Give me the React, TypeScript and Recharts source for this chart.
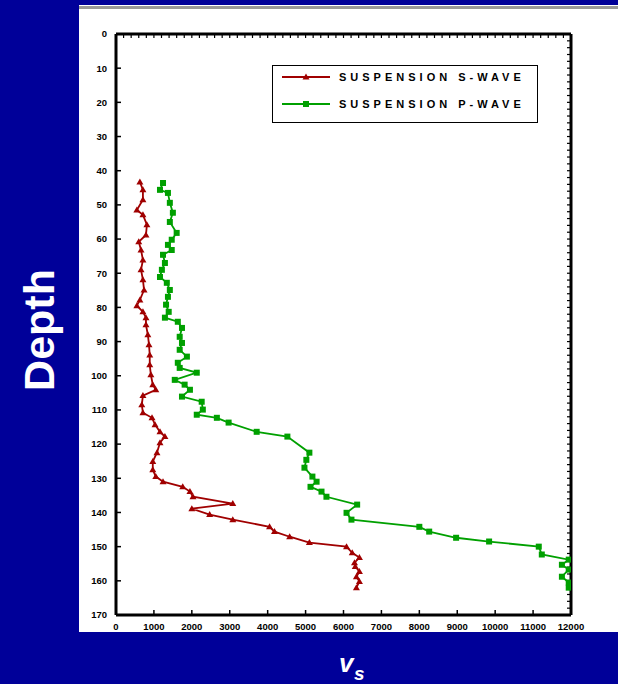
import { ScatterChart, Scatter, XAxis, YAxis } from "recharts"

// suspension S-wave (depth, velocity)
const sDepth = [43.3, 45.6, 48.5, 51.5, 52.9, 55.8, 58.8, 60.8, 63.2, 66.1, 69.0, 71.9, 74.9, 77.8, 79.5, 81.3, 83.0, 85.1, 88.0, 90.9, 93.9, 96.8, 99.7, 102.6, 104.1, 105.8, 108.5, 110.8, 112.3, 114.3, 116.4, 117.8, 119.6, 122.5, 125.1, 127.5, 129.5, 131.0, 132.5, 133.9, 135.4, 137.4, 138.9, 140.6, 142.1, 144.2, 145.6, 147.1, 148.8, 150.0, 151.8, 153.2, 154.7, 155.8, 157.3, 158.8, 160.2, 162.0]
const sVel = [630, 710, 710, 550, 710, 815, 790, 600, 660, 710, 660, 710, 740, 630, 550, 710, 790, 790, 840, 870, 890, 890, 920, 970, 1050, 710, 680, 710, 950, 1030, 1160, 1290, 1160, 1080, 970, 970, 1050, 1240, 1760, 1950, 2030, 3080, 2000, 2470, 3080, 4050, 4180, 4580, 5100, 6080, 6230, 6420, 6290, 6310, 6420, 6340, 6420, 6340]

// suspension P-wave (depth, velocity)
const pDepth = [43.6, 45.6, 46.5, 49.4, 52.3, 55.0, 58.2, 60.2, 61.7, 63.2, 64.6, 67.0, 69.0, 71.1, 72.8, 74.9, 76.9, 79.2, 81.3, 83.0, 84.2, 86.0, 88.6, 90.4, 92.4, 94.4, 96.2, 97.7, 99.1, 101.2, 102.6, 104.1, 106.1, 107.6, 109.9, 111.4, 112.3, 113.7, 116.4, 117.8, 122.5, 124.6, 126.9, 129.5, 131.0, 132.5, 133.9, 135.4, 137.7, 140.1, 142.1, 144.2, 145.6, 147.4, 148.5, 150.0, 152.3, 153.8, 155.3, 156.7, 158.8, 160.5, 162.0]
const pVel = [1240, 1160, 1370, 1420, 1500, 1420, 1600, 1470, 1370, 1470, 1240, 1290, 1210, 1160, 1340, 1420, 1370, 1320, 1390, 1290, 1630, 1740, 1680, 1740, 1680, 1870, 1630, 1680, 2130, 1550, 1810, 1950, 1740, 2260, 2290, 2130, 2660, 2970, 3710, 4520, 5100, 5020, 4970, 5180, 5290, 5130, 5420, 5550, 6360, 6080, 6210, 8000, 8260, 8970, 9840, 11150, 11230, 11940, 11760, 11940, 11760, 11940, 11940]

const xTicks = [0, 1000, 2000, 3000, 4000, 5000, 6000, 7000, 8000, 9000, 10000, 11000, 12000]
const yTicks = [0, 10, 20, 30, 40, 50, 60, 70, 80, 90, 100, 110, 120, 130, 140, 150, 160, 170]
const legendNames = ["SUSPENSION S-WAVE", "SUSPENSION P-WAVE"]

const sData = sDepth.map((d, i) => ({ depth: d, v: sVel[i] }))
const pData = pDepth.map((d, i) => ({ depth: d, v: pVel[i] }))
const topMinor = Array.from({ length: 61 }, (_, i) => i * 200)
const rightMinor = Array.from({ length: 86 }, (_, i) => i * 2)

const NAVY = "#000099"
const RED = "#a00000"
const GREEN = "#00a000"
const FONT = "'Liberation Sans', Arial, sans-serif"

function Tri({ cx, cy }: any) {
  return <polygon points={`${cx},${cy - 3.5} ${cx + 3.5},${cy + 2.5} ${cx - 3.5},${cy + 2.5}`} fill={RED} />
}

function Sq({ cx, cy }: any) {
  return <rect x={cx - 3} y={cy - 3} width={6} height={6} fill={GREEN} />
}

const tickStyle = { fontSize: 9.5, fontWeight: 700, fill: "#000", fontFamily: FONT }
const noLabel = () => ""

function LegendBox() {
  return (
    <div
      style={{
        position: "absolute",
        left: 272,
        top: 65,
        width: 264,
        height: 56,
        border: "1.5px solid #000",
        background: "#fff",
        fontFamily: FONT,
      }}
    >
      {legendNames.map((name, i) => (
        <div key={name} style={{ position: "absolute", left: 9, top: 3 + i * 27, height: 16, display: "flex", alignItems: "center" }}>
          <svg width={48} height={12}>
            <line x1={0} y1={6} x2={48} y2={6} stroke={i === 0 ? RED : GREEN} strokeWidth={2} />
            {i === 0 ? <Tri cx={24} cy={6} /> : <Sq cx={24} cy={6} />}
          </svg>
          <span style={{ marginLeft: 9, fontSize: 11, fontWeight: 700, letterSpacing: 4, color: "#000" }}>{name}</span>
        </div>
      ))}
    </div>
  )
}

export default function App() {
  return (
    <div style={{ position: "absolute", left: 0, top: 0, width: 618, height: 684, background: NAVY, overflow: "hidden" }}>
      <div style={{ position: "absolute", left: 79, top: 5, width: 539, height: 627, background: "#fff" }} />
      <div style={{ position: "absolute", left: 79, top: 6, width: 539, height: 3, background: "#999" }} />
      <div style={{ position: "absolute", left: 0, top: 0 }}>
        <ScatterChart width={618} height={684} margin={{ top: 34, right: 47, bottom: 49, left: 86 }}>
          <XAxis
            xAxisId="b"
            type="number"
            dataKey="v"
            domain={[0, 12000]}
            ticks={xTicks}
            interval={0}
            allowDataOverflow
            height={20}
            tickSize={-5}
            tickMargin={13}
            tick={tickStyle}
            stroke="#000"
            axisLine={{ stroke: "#000", strokeWidth: 3 }}
            tickLine={{ stroke: "#000", strokeWidth: 1.5 }}
          />
          <XAxis
            xAxisId="t"
            orientation="top"
            mirror
            type="number"
            dataKey="v"
            domain={[0, 12000]}
            ticks={topMinor}
            interval={0}
            allowDataOverflow
            tickSize={4}
            tick={{ fontSize: 1 }}
            tickFormatter={noLabel}
            stroke="#000"
            axisLine={{ stroke: "#000", strokeWidth: 3 }}
            tickLine={{ stroke: "#000", strokeWidth: 1.2 }}
          />
          <YAxis
            yAxisId="l"
            type="number"
            dataKey="depth"
            domain={[0, 170]}
            reversed
            ticks={yTicks}
            interval={0}
            allowDataOverflow
            width={30}
            tickSize={-5}
            tickMargin={14}
            tick={tickStyle}
            stroke="#000"
            axisLine={{ stroke: "#000", strokeWidth: 3 }}
            tickLine={{ stroke: "#000", strokeWidth: 1.5 }}
          />
          <YAxis
            yAxisId="r"
            orientation="right"
            mirror
            type="number"
            dataKey="depth"
            domain={[0, 170]}
            reversed
            ticks={rightMinor}
            interval={0}
            allowDataOverflow
            tickSize={4}
            tick={{ fontSize: 1 }}
            tickFormatter={noLabel}
            stroke="#000"
            axisLine={{ stroke: "#000", strokeWidth: 3 }}
            tickLine={{ stroke: "#000", strokeWidth: 1.2 }}
          />
          <Scatter xAxisId="t" yAxisId="r" data={[]} isAnimationActive={false} />
          <Scatter
            xAxisId="b"
            yAxisId="l"
            name={legendNames[0]}
            data={sData}
            fill={RED}
            line={{ stroke: RED, strokeWidth: 1.8 }}
            shape={<Tri />}
            isAnimationActive={false}
          />
          <Scatter
            xAxisId="b"
            yAxisId="l"
            name={legendNames[1]}
            data={pData}
            fill={GREEN}
            line={{ stroke: GREEN, strokeWidth: 1.8 }}
            shape={<Sq />}
            isAnimationActive={false}
          />
        </ScatterChart>
      </div>
      <LegendBox />
      <div style={{ position: "absolute", left: 0, top: 632, width: 618, height: 52, background: NAVY }} />
      <svg style={{ position: "absolute", left: 0, top: 0 }} width={618} height={684}>
        <text
          transform="translate(54,330) rotate(-90)"
          textAnchor="middle"
          fontFamily={FONT}
          fontWeight={700}
          fontSize={43}
          fill="#fff"
        >
          Depth
        </text>
        <text x={339} y={672} fontFamily={FONT} fontWeight={700} fontStyle="italic" fontSize={26} fill="#fff">
          v
        </text>
        <text x={354} y={680} fontFamily={FONT} fontWeight={700} fontStyle="italic" fontSize={19} fill="#fff">
          s
        </text>
      </svg>
    </div>
  )
}
